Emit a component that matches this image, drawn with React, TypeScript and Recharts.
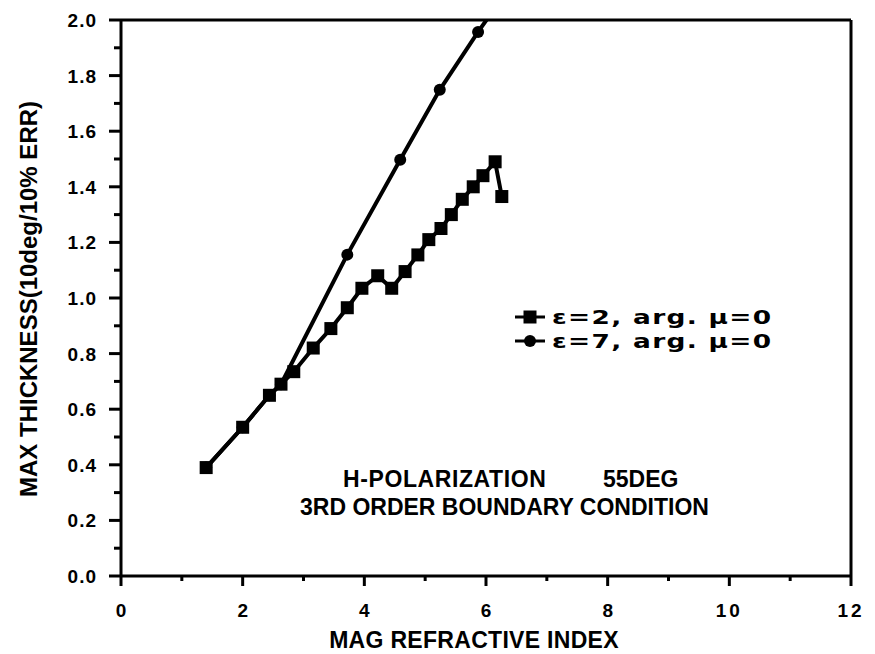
import React from 'react';
import { LineChart, Line, XAxis, YAxis, ReferenceLine, Legend } from 'recharts';

// ε=2, arg. μ=0  (square markers)
const eps2X = [1.4, 2.0, 2.44, 2.63, 2.84, 3.16, 3.45, 3.72, 3.96, 4.22, 4.45, 4.67, 4.88, 5.06, 5.26, 5.43, 5.61, 5.79, 5.95, 6.15, 6.26];
const eps2Y = [0.39, 0.535, 0.65, 0.69, 0.735, 0.82, 0.89, 0.965, 1.035, 1.08, 1.035, 1.095, 1.155, 1.21, 1.25, 1.3, 1.355, 1.4, 1.44, 1.49, 1.365];

// ε=7, arg. μ=0  (circle markers)
const eps7X = [1.4, 2.0, 2.44, 2.63, 3.72, 4.59, 5.24, 5.87, 6.2];
const eps7Y = [0.39, 0.535, 0.65, 0.69, 1.156, 1.497, 1.749, 1.957, 2.06];

const xTicks = [0, 1, 2, 3, 4, 5, 6, 7, 8, 9, 10, 11, 12];
const yTicks = [0, 0.1, 0.2, 0.3, 0.4, 0.5, 0.6, 0.7, 0.8, 0.9, 1.0, 1.1, 1.2, 1.3, 1.4, 1.5, 1.6, 1.7, 1.8, 1.9, 2.0];

const seriesNames = ['ε=2, arg. μ=0', 'ε=7, arg. μ=0'];

const eps2 = eps2X.map((x, i) => ({ x, y: eps2Y[i] }));
const eps7 = eps7X.map((x, i) => ({ x, y: eps7Y[i] }));

const FONT = '"Liberation Sans", Arial, Helvetica, sans-serif';

const XTick = (props: any) => {
  const { x, y, payload } = props;
  const v = payload.value as number;
  const major = v % 2 === 0;
  return (
    <g>
      <line x1={x} x2={x} y1={y} y2={y + (major ? 10 : 5)} stroke="#000" strokeWidth={3} />
      {major && (
        <text x={x} y={y + 41} textAnchor="middle" fontFamily={FONT} fontWeight="bold" fontSize={19} letterSpacing={v >= 10 ? 3 : 0} fill="#000">
          {v}
        </text>
      )}
    </g>
  );
};

const YTick = (props: any) => {
  const { x, y, payload } = props;
  const v = payload.value as number;
  const major = Math.round(v * 10) % 2 === 0;
  return (
    <g>
      <line x1={x} x2={x - (major ? 12 : 7)} y1={y} y2={y} stroke="#000" strokeWidth={3} />
      {major && (
        <text x={x - 24} y={y + 7} textAnchor="end" fontFamily={FONT} fontWeight="bold" fontSize={19} letterSpacing={1} fill="#000">
          {v.toFixed(1)}
        </text>
      )}
    </g>
  );
};

const SquareDot = (props: any) => {
  const { cx, cy, key } = props;
  if (cx == null || cy == null) return <g key={key} />;
  return <rect key={key} x={cx - 6.5} y={cy - 6.5} width={13} height={13} fill="#000" />;
};

const CircleDot = (props: any) => {
  const { cx, cy, key } = props;
  if (cx == null || cy == null) return <g key={key} />;
  return <circle key={key} cx={cx} cy={cy} r={6} fill="#000" />;
};

const LegendBox = () => (
  <div style={{ fontFamily: '"DejaVu Sans", Verdana, sans-serif', fontWeight: 'bold', fontSize: 20, color: '#000', lineHeight: '24px' }}>
    {seriesNames.map((name, i) => (
      <div key={name} style={{ display: 'flex', alignItems: 'center', height: 24 }}>
        <svg width={34} height={16} style={{ marginRight: 5, flexShrink: 0 }}>
          <line x1={2} x2={32} y1={8} y2={8} stroke="#000" strokeWidth={3} />
          {i === 0 ? <rect x={10.5} y={1.5} width={13} height={13} fill="#000" /> : <circle cx={17} cy={8} r={6} fill="#000" />}
        </svg>
        <span style={{ letterSpacing: 1, display: 'inline-block', transform: 'scaleX(1.32)', transformOrigin: 'left center', whiteSpace: 'pre' }}>
          {name}
        </span>
      </div>
    ))}
  </div>
);

const noteStyle: React.CSSProperties = {
  position: 'absolute',
  fontFamily: FONT,
  fontWeight: 'bold',
  fontSize: 23,
  whiteSpace: 'pre',
  lineHeight: '27px',
  color: '#000',
};

export default function App() {
  return (
    <div style={{ position: 'relative', width: 867, height: 646 }}>
      <LineChart width={867} height={646} margin={{ top: 12, right: 24, bottom: 0, left: 43 }}>
        <XAxis
          type="number"
          dataKey="x"
          domain={[0, 12]}
          ticks={xTicks}
          interval={0}
          height={78}
          tickSize={0}
          tickMargin={0}
          tickLine={false}
          tick={<XTick />}
          axisLine={{ stroke: '#000', strokeWidth: 3 }}
          label={() => (
            <text x={466} y={640} textAnchor="middle" fontFamily={FONT} fontWeight="bold" fontSize={23} letterSpacing={0.3} fill="#000">
              MAG REFRACTIVE INDEX
            </text>
          )}
        />
        <YAxis
          type="number"
          dataKey="y"
          domain={[0, 2]}
          allowDataOverflow
          ticks={yTicks}
          interval={0}
          width={70}
          tickSize={0}
          tickMargin={0}
          tickLine={false}
          tick={<YTick />}
          axisLine={{ stroke: '#000', strokeWidth: 3 }}
          label={() => (
            <text transform="translate(29,291) rotate(-90)" textAnchor="middle" fontFamily={FONT} fontWeight="bold" fontSize={24} fill="#000">
              MAX THICKNESS(10deg/10% ERR)
            </text>
          )}
        />
        <ReferenceLine y={2} stroke="#000" strokeWidth={3} />
        <ReferenceLine x={12} stroke="#000" strokeWidth={3} />
        <Line
          data={eps7}
          dataKey="y"
          name={seriesNames[1]}
          stroke="#000"
          strokeWidth={4}
          dot={<CircleDot />}
          isAnimationActive={false}
        />
        <Line
          data={eps2}
          dataKey="y"
          name={seriesNames[0]}
          stroke="#000"
          strokeWidth={4}
          dot={<SquareDot />}
          isAnimationActive={false}
        />
        <Legend
          layout="horizontal"
          verticalAlign="middle"
          content={<LegendBox />}
          wrapperStyle={{ left: 505, top: 297, width: 330 }}
        />
      </LineChart>
      <div style={{ ...noteStyle, left: 335, top: 458, letterSpacing: 0.6 }}>H-POLARIZATION</div>
      <div style={{ ...noteStyle, left: 595, top: 458 }}>55DEG</div>
      <div style={{ ...noteStyle, left: 292, top: 486 }}>3RD ORDER BOUNDARY CONDITION</div>
    </div>
  );
}
